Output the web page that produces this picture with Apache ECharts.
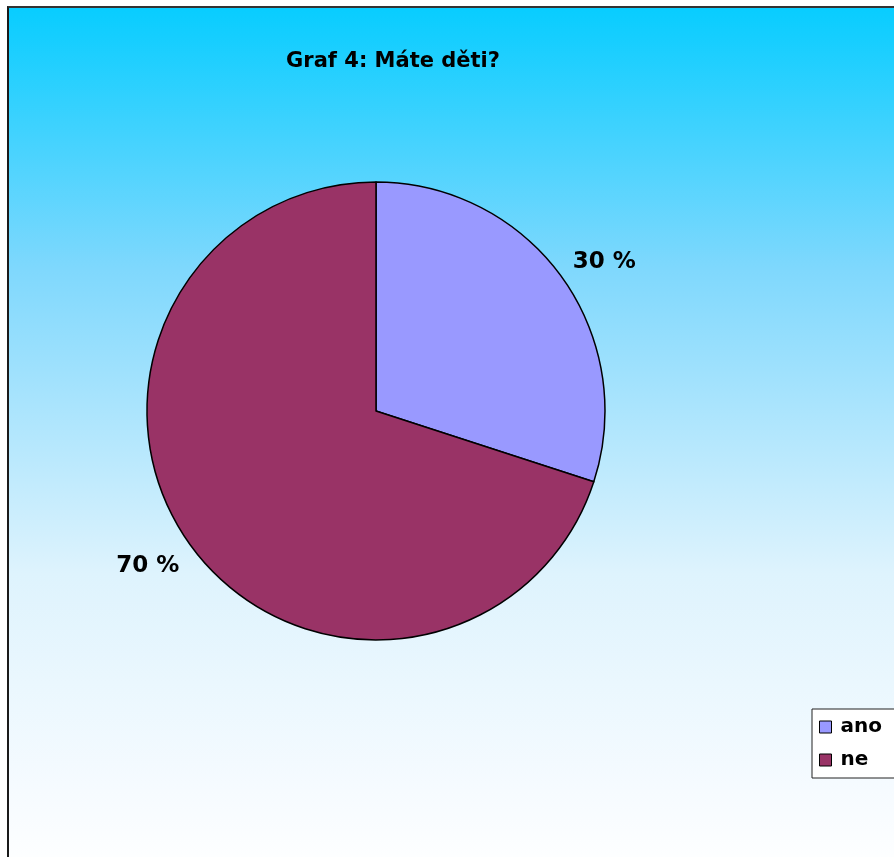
<!DOCTYPE html>
<html>
<head>
<meta charset="utf-8">
<script src="https://cdn.jsdelivr.net/npm/echarts@6/dist/echarts.min.js"></script>
<style>
  body {
    margin: 0;
    overflow: hidden;
    background: #fff;
  }
  .chart {
    position: absolute;
    left: 7px;
    top: 6px;
    width: 900px;
    height: 870px;
    border-left: 2px solid #1a1a1a;
    border-top: 2px solid #333;
  }
</style>
</head>
<body>
<div id="chart" class="chart"></div>
<script>
const title = 'Graf 4: Máte děti?'
const categories = ['ano', 'ne']
const values = [30, 70]
const colors = ['#9999ff', '#993366']

function init () {
  let myChart = echarts.init(document.getElementById('chart'))
  let font = 'DejaVu Sans, Verdana, sans-serif'
  // label placement per slice (best fit like the original)
  let labelLen = [24, 35]
  let labelDist = [-8, -17]
  let opt = {
    backgroundColor: {
      type: 'linear',
      x: 0, y: 0, x2: 0, y2: 1,
      colorStops: [
        { offset: 0, color: '#08cdff' },
        { offset: 0.3, color: '#7fd8fd' },
        { offset: 0.65, color: '#def3fd' },
        { offset: 0.9, color: '#f6fbff' },
        { offset: 1, color: '#ffffff' }
      ]
    },
    title: {
      text: title,
      left: 379,
      top: 38,
      textAlign: 'center',
      textStyle: {
        fontFamily: font,
        fontSize: 21,
        fontWeight: 'bold',
        color: '#000'
      }
    },
    legend: {
      orient: 'vertical',
      left: 803,
      top: 701,
      padding: [8, 40, 8, 7],
      itemGap: 13,
      itemWidth: 12,
      itemHeight: 12,
      icon: 'rect',
      backgroundColor: '#fff',
      borderColor: '#222',
      borderWidth: 1,
      itemStyle: {
        borderColor: '#000',
        borderWidth: 1
      },
      textStyle: {
        fontFamily: font,
        fontSize: 20,
        fontWeight: 'bold',
        color: '#000',
        padding: [0, 0, 0, 4]
      },
      data: categories
    },
    series: [{
      type: 'pie',
      center: [367, 403],
      radius: 229,
      startAngle: 90,
      clockwise: true,
      animation: false,
      silent: true,
      itemStyle: {
        borderColor: '#000',
        borderWidth: 1.5
      },
      label: {
        show: true,
        position: 'outside',
        formatter: '{c} %',
        fontFamily: font,
        fontSize: 23,
        fontWeight: 'bold',
        color: '#000'
      },
      labelLine: {
        show: false,
        length2: 0
      },
      data: categories.map((name, i) => ({
        name: name,
        value: values[i],
        itemStyle: { color: colors[i] },
        label: { distanceToLabelLine: labelDist[i] },
        labelLine: { length: labelLen[i] }
      }))
    }]
  }
  myChart.setOption(opt, true)
}

init()
</script>
</body>
</html>
